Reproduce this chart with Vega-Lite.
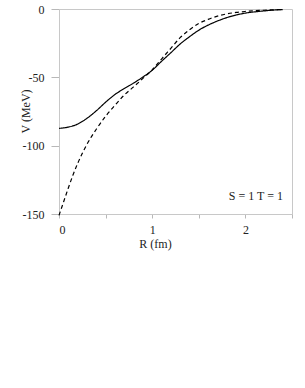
{
  "$schema": "https://vega.github.io/schema/vega-lite/v6.json",
  "autosize": "none",
  "width": 233,
  "height": 205,
  "padding": {"left": 59, "top": 9, "right": 13, "bottom": 174},
  "background": "white",
  "config": {
    "view": {"stroke": "#c8c8c8", "strokeWidth": 1},
    "font": "Liberation Serif",
    "axis": {
      "grid": false,
      "domainColor": "#c8c8c8",
      "tickColor": "#b8b8b8",
      "labelFont": "Liberation Serif",
      "titleFont": "Liberation Serif",
      "labelFontSize": 12,
      "titleFontSize": 12,
      "labelColor": "#222",
      "titleColor": "#222",
      "titleFontWeight": "normal"
    }
  },
  "datasets": {
    "curves": [
      {"R": 0, "V": -87.3, "series": "solid"},
      {"R": 0.1, "V": -86.4, "series": "solid"},
      {"R": 0.2, "V": -84.2, "series": "solid"},
      {"R": 0.3, "V": -80.0, "series": "solid"},
      {"R": 0.4, "V": -74.5, "series": "solid"},
      {"R": 0.5, "V": -68.2, "series": "solid"},
      {"R": 0.6, "V": -62.6, "series": "solid"},
      {"R": 0.7, "V": -58.2, "series": "solid"},
      {"R": 0.8, "V": -54.2, "series": "solid"},
      {"R": 0.9, "V": -49.8, "series": "solid"},
      {"R": 1.0, "V": -44.8, "series": "solid"},
      {"R": 1.1, "V": -38.3, "series": "solid"},
      {"R": 1.2, "V": -32.0, "series": "solid"},
      {"R": 1.3, "V": -25.6, "series": "solid"},
      {"R": 1.4, "V": -20.3, "series": "solid"},
      {"R": 1.5, "V": -15.5, "series": "solid"},
      {"R": 1.6, "V": -11.8, "series": "solid"},
      {"R": 1.7, "V": -8.8, "series": "solid"},
      {"R": 1.8, "V": -6.3, "series": "solid"},
      {"R": 1.9, "V": -4.4, "series": "solid"},
      {"R": 2.0, "V": -3.0, "series": "solid"},
      {"R": 2.1, "V": -2.1, "series": "solid"},
      {"R": 2.2, "V": -1.4, "series": "solid"},
      {"R": 2.3, "V": -0.8, "series": "solid"},
      {"R": 2.4, "V": -0.4, "series": "solid"},
      {"R": 0, "V": -151, "series": "dashed"},
      {"R": 0.05, "V": -141, "series": "dashed"},
      {"R": 0.1, "V": -131, "series": "dashed"},
      {"R": 0.15, "V": -121.5, "series": "dashed"},
      {"R": 0.2, "V": -113, "series": "dashed"},
      {"R": 0.3, "V": -99, "series": "dashed"},
      {"R": 0.4, "V": -88, "series": "dashed"},
      {"R": 0.5, "V": -78.5, "series": "dashed"},
      {"R": 0.6, "V": -70.5, "series": "dashed"},
      {"R": 0.7, "V": -63, "series": "dashed"},
      {"R": 0.8, "V": -57, "series": "dashed"},
      {"R": 0.9, "V": -50.8, "series": "dashed"},
      {"R": 1.0, "V": -44.5, "series": "dashed"},
      {"R": 1.1, "V": -36.6, "series": "dashed"},
      {"R": 1.2, "V": -28.8, "series": "dashed"},
      {"R": 1.3, "V": -21, "series": "dashed"},
      {"R": 1.4, "V": -15.2, "series": "dashed"},
      {"R": 1.5, "V": -10.6, "series": "dashed"},
      {"R": 1.6, "V": -7.6, "series": "dashed"},
      {"R": 1.7, "V": -5.2, "series": "dashed"},
      {"R": 1.8, "V": -3.6, "series": "dashed"},
      {"R": 1.9, "V": -2.5, "series": "dashed"},
      {"R": 2.0, "V": -1.8, "series": "dashed"},
      {"R": 2.1, "V": -1.3, "series": "dashed"},
      {"R": 2.2, "V": -0.9, "series": "dashed"},
      {"R": 2.3, "V": -0.6, "series": "dashed"},
      {"R": 2.4, "V": -0.4, "series": "dashed"}
    ],
    "notes": [
      {"R": 2.403, "V": -139.5, "label": "S = 1  T = 1"}
    ]
  },
  "layer": [
    {
      "data": {"name": "curves"},
      "mark": {"type": "line", "color": "black", "strokeWidth": 1.2, "interpolate": "monotone", "clip": false},
      "encoding": {
        "x": {
          "field": "R",
          "type": "quantitative",
          "scale": {"domain": [0, 2.5], "nice": false},
          "axis": {
            "values": [0, 0.5, 1, 1.5, 2, 2.5],
            "labelExpr": "datum.value % 1 === 0 ? '' + datum.value : ''",
            "tickSize": 4,
            "labelPadding": 6,
            "title": "R (fm)",
            "titleX": 96,
            "titleY": 33,
            "titleBaseline": "alphabetic",
            "titleAlign": "center"
          }
        },
        "y": {
          "field": "V",
          "type": "quantitative",
          "scale": {"domain": [-150, 0], "nice": false},
          "axis": {
            "values": [0, -25, -50, -75, -100, -125, -150],
            "labelExpr": "datum.value % 50 === 0 ? '' + datum.value : ''",
            "tickSize": 8,
            "labelPadding": 7,
            "title": "V (MeV)",
            "titleAngle": -90,
            "titleX": -30,
            "titleY": 102,
            "titleAlign": "center",
            "titleBaseline": "alphabetic"
          }
        },
        "detail": {"field": "series"},
        "strokeDash": {
          "field": "series",
          "type": "nominal",
          "scale": {"domain": ["solid", "dashed"], "range": [[1, 0], [4, 3]]},
          "legend": null
        }
      }
    },
    {
      "data": {"name": "notes"},
      "mark": {"type": "text", "align": "right", "baseline": "alphabetic", "fontSize": 12, "font": "Liberation Serif", "color": "#222"},
      "encoding": {
        "x": {"field": "R", "type": "quantitative"},
        "y": {"field": "V", "type": "quantitative"},
        "text": {"field": "label"}
      }
    }
  ]
}
